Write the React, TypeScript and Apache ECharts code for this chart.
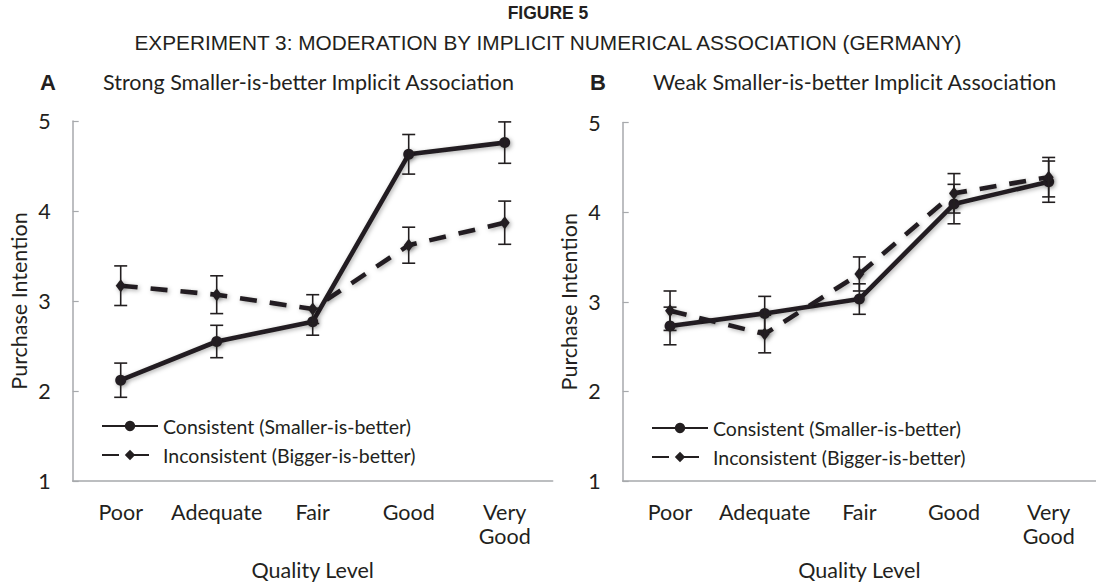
import React, { useEffect, useRef } from "react";
import * as echarts from "echarts";

const categories = ["Poor", "Adequate", "Fair", "Good", "Very\nGood"];
const yTicks = [1, 2, 3, 4, 5];

const consistentA = [2.12, 2.55, 2.77, 4.63, 4.76];
const consistentErrA = [0.19, 0.18, 0.15, 0.22, 0.23];
const inconsistentA = [3.17, 3.07, 2.91, 3.62, 3.87];
const inconsistentErrA = [0.22, 0.21, 0.16, 0.2, 0.24];

const consistentB = [2.73, 2.87, 3.03, 4.09, 4.34];
const consistentErrB = [0.21, 0.19, 0.17, 0.22, 0.23];
const inconsistentB = [2.9, 2.64, 3.31, 4.21, 4.39];
const inconsistentErrB = [0.22, 0.21, 0.19, 0.22, 0.22];

const seriesNames = ["Consistent (Smaller-is-better)", "Inconsistent (Bigger-is-better)"];
const figureTitle = "FIGURE 5";
const figureSubtitle = "EXPERIMENT 3: MODERATION BY IMPLICIT NUMERICAL ASSOCIATION (GERMANY)";
const panelLetters = ["A", "B"];
const panelTitles = ["Strong Smaller-is-better Implicit Association", "Weak Smaller-is-better Implicit Association"];

const INK = "#231f20";
const AXIS = "#a7a9ac";
const FONT = "Lato";
const FS = 21.5;

export default function App() {
  const ref = useRef<HTMLDivElement>(null);
  useEffect(() => {
    if (!ref.current) return;
    const chart = echarts.init(ref.current, undefined, { renderer: "svg" });

    const grids = [
      { left: 72.7, width: 480, top: 121, height: 362 },
      { left: 622.7, width: 479, top: 122.5, height: 361.5 },
    ];

    const xAxes = grids.map((_, i) => ({
      type: "category",
      gridIndex: i,
      data: categories,
      boundaryGap: true,
      axisLine: { lineStyle: { color: AXIS, width: 1.5 } },
      axisTick: { inside: true, length: 4, lineStyle: { color: AXIS, width: 1.2 } },
      axisLabel: { color: INK, fontSize: FS, fontFamily: FONT, margin: 19, lineHeight: 24, interval: 0 },
      name: "Quality Level",
      nameLocation: "middle",
      nameGap: 78,
      nameTextStyle: { color: INK, fontSize: FS, fontFamily: FONT },
    }));

    const yAxes = grids.map((_, i) => ({
      type: "value",
      gridIndex: i,
      min: yTicks[0],
      max: yTicks[yTicks.length - 1],
      interval: 1,
      splitLine: { show: false },
      axisLine: { show: true, lineStyle: { color: AXIS, width: 1.5 } },
      axisTick: { show: true, inside: true, length: 6, lineStyle: { color: AXIS, width: 1.2 } },
      axisLabel: { color: INK, fontSize: FS, fontFamily: FONT, margin: 22 },
      name: "Purchase Intention",
      nameLocation: "middle",
      nameGap: 43,
      nameTextStyle: { color: INK, fontSize: FS, fontFamily: FONT },
    }));

    const lineSeries = (name: string, data: number[], idx: number, dashed: boolean) => ({
      type: "line",
      name,
      xAxisIndex: idx,
      yAxisIndex: idx,
      data,
      symbol: dashed ? "diamond" : "circle",
      symbolSize: dashed ? [10, 13] : 11,
      itemStyle: { color: INK, shadowColor: "rgba(0,0,0,0.35)", shadowBlur: 4, shadowOffsetX: 1.5, shadowOffsetY: 1.5 },
      lineStyle: {
        color: INK,
        width: 4.6,
        type: dashed ? [17, 13] : "solid",
        shadowColor: "rgba(0,0,0,0.3)",
        shadowBlur: 4,
        shadowOffsetX: 1.5,
        shadowOffsetY: 1.5,
      },
      z: 3,
    });

    const errSeries = (vals: number[], errs: number[], idx: number) => ({
      type: "custom",
      xAxisIndex: idx,
      yAxisIndex: idx,
      data: vals.map((v, i) => [i, v, errs[i]]),
      z: 4,
      silent: true,
      renderItem: (params: any, api: any) => {
        const x = api.value(0);
        const y = api.value(1);
        const e = api.value(2);
        const top = api.coord([x, y + e]);
        const bot = api.coord([x, y - e]);
        const hw = 6.5;
        const style = { stroke: INK, lineWidth: 1.6 };
        return {
          type: "group",
          children: [
            { type: "line", shape: { x1: top[0], y1: top[1], x2: bot[0], y2: bot[1] }, style },
            { type: "line", shape: { x1: top[0] - hw, y1: top[1], x2: top[0] + hw, y2: top[1] }, style },
            { type: "line", shape: { x1: bot[0] - hw, y1: bot[1], x2: bot[0] + hw, y2: bot[1] }, style },
          ],
        };
      },
    });

    const legendBase = {
      orient: "vertical",
      itemWidth: 56,
      itemHeight: 13,
      itemGap: 9,
      data: seriesNames,
      selectedMode: false,
      textStyle: { color: INK, fontSize: 19.5, fontFamily: FONT },
    };

    const option = {
      animation: false,
      backgroundColor: "#ffffff",
      grid: grids.map((g) => ({ ...g, containLabel: false })),
      xAxis: xAxes,
      yAxis: yAxes,
      legend: [
        { ...legendBase, left: 96, top: 411 },
        { ...legendBase, left: 646, top: 413 },
      ],
      graphic: [
        {
          type: "text",
          x: 548,
          y: 13,
          style: { text: figureTitle, fill: INK, font: "bold 17.5px 'Liberation Sans', Arial, sans-serif", textAlign: "center", textVerticalAlign: "middle" },
        },
        {
          type: "text",
          x: 548,
          y: 42,
          style: { text: figureSubtitle, fill: INK, font: "20.8px 'Liberation Sans', Arial, sans-serif", textAlign: "center", textVerticalAlign: "middle" },
        },
        {
          type: "text",
          x: 40,
          y: 82,
          style: { text: panelLetters[0], fill: INK, font: "bold 22px 'Liberation Sans', Arial, sans-serif", textAlign: "left", textVerticalAlign: "middle" },
        },
        {
          type: "text",
          x: 103,
          y: 82,
          style: { text: panelTitles[0], fill: INK, font: `21.5px ${FONT}`, textAlign: "left", textVerticalAlign: "middle" },
        },
        {
          type: "text",
          x: 590,
          y: 82,
          style: { text: panelLetters[1], fill: INK, font: "bold 22px 'Liberation Sans', Arial, sans-serif", textAlign: "left", textVerticalAlign: "middle" },
        },
        {
          type: "text",
          x: 653,
          y: 82,
          style: { text: panelTitles[1], fill: INK, font: `21.5px ${FONT}`, textAlign: "left", textVerticalAlign: "middle" },
        },
      ],
      series: [
        lineSeries(seriesNames[0], consistentA, 0, false),
        lineSeries(seriesNames[1], inconsistentA, 0, true),
        errSeries(consistentA, consistentErrA, 0),
        errSeries(inconsistentA, inconsistentErrA, 0),
        lineSeries(seriesNames[0], consistentB, 1, false),
        lineSeries(seriesNames[1], inconsistentB, 1, true),
        errSeries(consistentB, consistentErrB, 1),
        errSeries(inconsistentB, inconsistentErrB, 1),
      ],
    };

    chart.setOption(option as any);
    return () => chart.dispose();
  }, []);

  return (
    <div
      ref={ref}
      style={{ position: "absolute", left: 0, top: 0, width: 1096, height: 586, background: "#fff" }}
    />
  );
}
